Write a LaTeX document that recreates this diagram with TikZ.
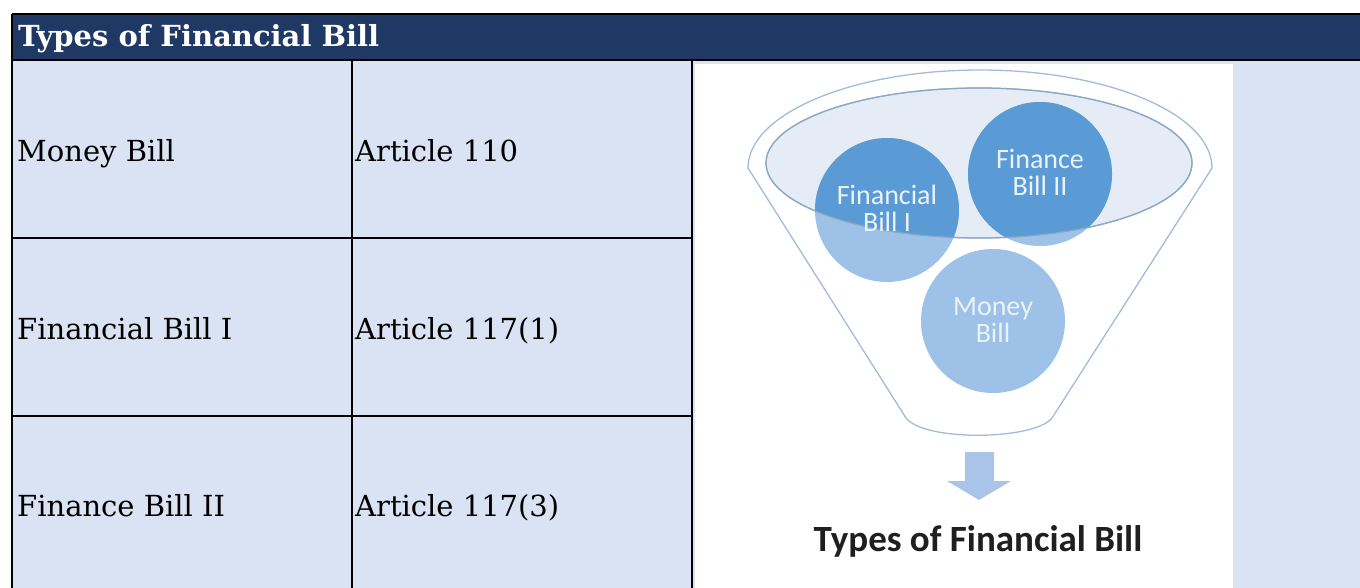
\documentclass[tikz,border=0pt]{standalone}
\usepackage{fontspec}
\setmainfont{DejaVu Serif}
\newfontfamily\calibri{Carlito}
\usepackage{tikz}
\usetikzlibrary{calc, positioning}

\definecolor{headblue}{HTML}{203864}
\definecolor{cellblue}{HTML}{DAE3F3}
\definecolor{darkdisc}{HTML}{5B9BD5}
\definecolor{lightdisc}{HTML}{9DC1E7}
\definecolor{rimline}{HTML}{A3BBDB}
\definecolor{bowl}{HTML}{E6ECF6}
\definecolor{arrowblue}{HTML}{A9C4E8}

\tikzset{
  cell/.style={anchor=base west, inner sep=0pt, font=\fontsize{29}{34}\selectfont},
  disctext/.style={text=white!88!darkdisc, align=center, font=\calibri\fontsize{28}{33}\selectfont},
  rule/.style={line width=2.2pt},
}

\begin{document}
\begin{tikzpicture}[x=1pt, y=-1pt]
  \useasboundingbox (0,0) rectangle (1360,588);
  % table
  \fill [cellblue] (12,61) rectangle (1360,588);
  \fill [headblue] (12,14) rectangle (1360,61);
  \fill [white] (695,64) rectangle (1233,588);
  \draw [rule] (12,14) -- (1360,14);
  \draw [rule] (12,60) -- (1360,60);
  \draw [rule] (12,14) -- (12,588);
  \draw [rule] (352,60) -- (352,588);
  \draw [rule] (692,60) -- (692,588);
  \draw [rule] (12,238) -- (692,238);
  \draw [rule] (12,416) -- (692,416);
  \node (title) at (18,47) [anchor=base west, inner sep=0pt, text=white, font=\bfseries\fontsize{29}{34}\selectfont] {Types of Financial Bill};
  \node (money) at (17,162) [cell] {Money Bill};
  \node (art110) at (355,162) [cell] {Article 110};
  \node (fin1) at (17,339) [cell] {Financial Bill I};
  \node (art117a) at (355,339) [cell] {Article 117(1)};
  \node (fin2) at (17,516) [cell] {Finance Bill II};
  \node (art117c) at (355,516) [cell] {Article 117(3)};

  % funnel
  \draw [rimline, line width=1.3pt, fill=white]
    (748,168) arc [start angle=180, end angle=0, x radius=232pt, y radius=98pt]
    -- (1052,418) .. controls (1035,440) and (925,442) .. (906,418) -- cycle;
  \draw [rimline, line width=1.3pt, fill=bowl] (979,163) ellipse [x radius=213pt, y radius=75pt];
  \fill [lightdisc] (887,210) circle [radius=72pt];
  \fill [lightdisc] (1040,174) circle [radius=72pt];
  \fill [lightdisc] (993,321) circle [radius=72pt];
  \begin{scope}
    \clip (979,163) ellipse [x radius=213pt, y radius=75pt];
    \fill [darkdisc] (887,210) circle [radius=72pt];
    \fill [darkdisc] (1040,174) circle [radius=72pt];
  \end{scope}
  \draw [darkdisc!70!black!60!white, line width=1.2pt] (979,163) ellipse [x radius=213pt, y radius=75pt];
  \node (d1) at (887,208) [disctext] {Financial\\[-6pt]Bill I};
  \node (d2) at (1040,172) [disctext] {Finance\\[-6pt]Bill II};
  \node (d3) at (993,320) [disctext] {Money\\[-6pt]Bill};

  % arrow and caption
  \fill [arrowblue] (965,452) -- (994,452) -- (994,481) -- (1011,481) -- (979,500)
    -- (947,481) -- (965,481) -- cycle;
  \node (caption) at (978,541) [font=\calibri\bfseries\fontsize{37}{44}\selectfont, text=black!88] {Types of Financial Bill};
\end{tikzpicture}
\end{document}
